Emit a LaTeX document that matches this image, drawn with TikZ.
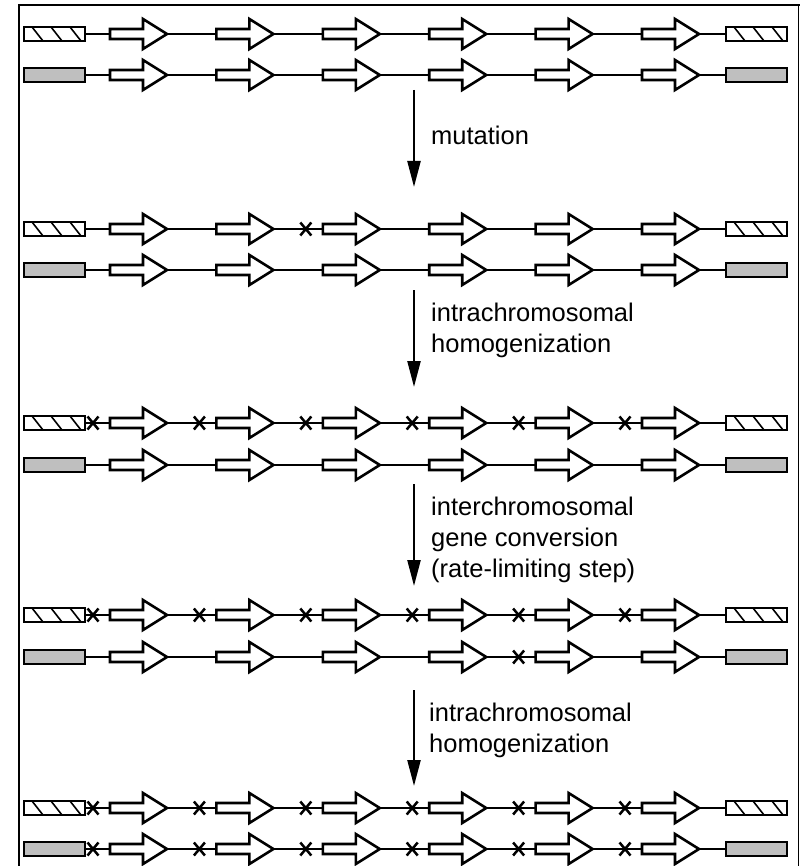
\documentclass[tikz,border=0pt]{standalone}
\usepackage{fontspec}
\setmainfont{Liberation Sans}
\usetikzlibrary{arrows.meta}
\tikzset{
  chromline/.style={line width=2.2pt},
  genebox/.style={draw=black,fill=white,line width=2.6pt,line join=miter},
  endbox/.style={draw=black,line width=2.4pt},
  stripe/.style={line width=1.6pt},
  dotfill/.style={fill=black!25},
  mutmark/.style={line width=2.5pt},
  flow/.style={line width=2.3pt,-{Triangle[length=26pt,width=13pt]}},
  lbl/.style={font=\fontsize{25.5}{31}\selectfont,anchor=base west,inner sep=0pt},
  frameline/.style={line width=2.2pt},
  pics/gene/.style={code={\draw[genebox] (0,-5) -- (33,-5) -- (33,-15) -- (57,0) -- (33,15) -- (33,5) -- (0,5) -- cycle;}},
  pics/xmark/.style={code={\draw[mutmark] (-5.5,-6.5) -- (5.5,6.5) (-5.5,6.5) -- (5.5,-6.5);}},
}
% one chromosome: #1 name, #2 y, #3 h (hatched) or d (dotted)
\newcommand\chromrow[3]{%
  \coordinate (#1L) at (85,#2);
  \coordinate (#1R) at (726,#2);
  \draw[chromline] (#1L) -- (#1R);
  \foreach \i in {0,...,5} \pic at ({110+106.4*\i},#2) {gene};
  \if h#3
    \begin{scope}
      \clip (24,#2-7) rectangle (85,#2+7);
      \foreach \s in {-11,8,27,46} \draw[stripe] (24+\s,#2-7) -- ++(11,14);
    \end{scope}
    \begin{scope}
      \clip (726,#2-7) rectangle (787,#2+7);
      \foreach \s in {-11,8,27,46} \draw[stripe] (726+\s,#2-7) -- ++(11,14);
    \end{scope}
    \draw[endbox] (24,#2-7) rectangle (85,#2+7);
    \draw[endbox] (726,#2-7) rectangle (787,#2+7);
  \else
    \draw[endbox,dotfill] (24,#2-7) rectangle (85,#2+7);
    \draw[endbox,dotfill] (726,#2-7) rectangle (787,#2+7);
  \fi
}
% mutation marks before the listed genes (0..5) at height #1
\newcommand\mutmarks[2]{%
  \foreach \i in {#2} \pic at ({110+106.4*\i-17},#1) {xmark};
}
\begin{document}
\begin{tikzpicture}[x=1pt,y=-1pt]
\useasboundingbox (0,0) rectangle (800,866);
% frame
\draw[frameline] (19,866) -- (19,5) -- (800,5);
\draw[line width=1.2pt] (798.5,5) -- (798.5,866);

% stage 1
\chromrow{r1a}{34}{h}
\chromrow{r1b}{75}{d}
% stage 2
\chromrow{r2a}{229}{h}
\chromrow{r2b}{270}{d}
\mutmarks{229}{2}
% stage 3
\chromrow{r3a}{423}{h}
\chromrow{r3b}{465}{d}
\mutmarks{423}{0,1,2,3,4,5}
% stage 4
\chromrow{r4a}{615}{h}
\chromrow{r4b}{657}{d}
\mutmarks{615}{0,1,2,3,4,5}
\mutmarks{657}{4}
% stage 5
\chromrow{r5a}{808}{h}
\chromrow{r5b}{849}{d}
\mutmarks{808}{0,1,2,3,4,5}
\mutmarks{849}{0,1,2,3,4,5}

% steps
\coordinate (s1t) at (414,90);  \coordinate (s1b) at (414,187);
\coordinate (s2t) at (414,290); \coordinate (s2b) at (414,387);
\coordinate (s3t) at (414,484); \coordinate (s3b) at (414,586);
\coordinate (s4t) at (414,690); \coordinate (s4b) at (414,786);
\draw[flow] (s1t) -- (s1b);
\draw[flow] (s2t) -- (s2b);
\draw[flow] (s3t) -- (s3b);
\draw[flow] (s4t) -- (s4b);

\node[lbl] (t1) at (431,145) {mutation};
\node[lbl] (t2a) at (431,321) {intrachromosomal};
\node[lbl] (t2b) at (431,352) {homogenization};
\node[lbl] (t3a) at (431,515) {interchromosomal};
\node[lbl] (t3b) at (431,546) {gene conversion};
\node[lbl] (t3c) at (431,577) {(rate-limiting step)};
\node[lbl] (t4a) at (429,721) {intrachromosomal};
\node[lbl] (t4b) at (429,752) {homogenization};
\end{tikzpicture}
\end{document}
